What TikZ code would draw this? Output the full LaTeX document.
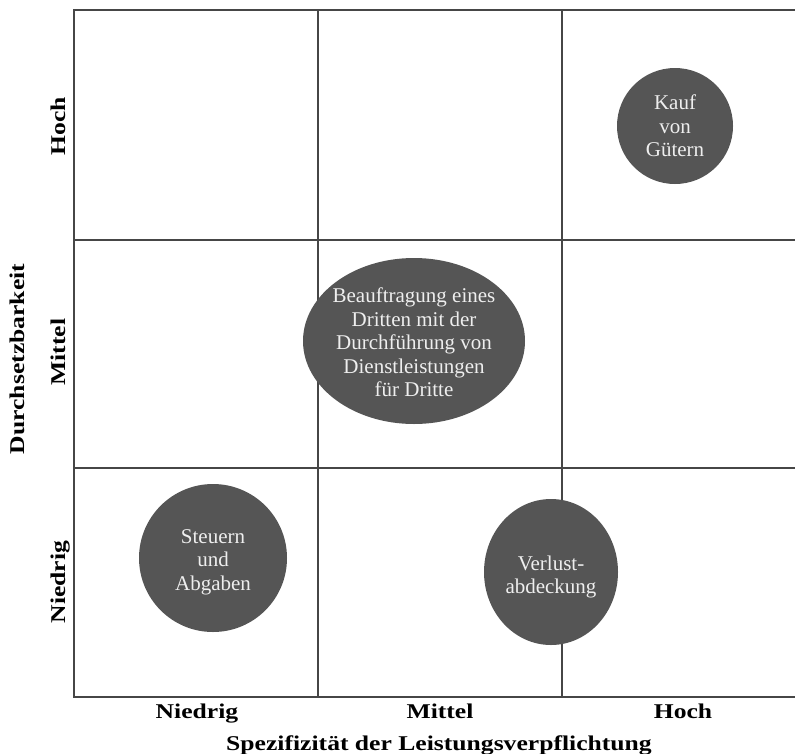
\documentclass[tikz,border=0pt]{standalone}
\usepackage{fontspec}
\setmainfont{Liberation Serif}
\newfontfamily\lblfont[FakeStretch=1.22]{Liberation Serif}
\usetikzlibrary{shapes.geometric}
\definecolor{gridcol}{RGB}{70,70,70}
\definecolor{blobfill}{RGB}{85,85,85}
\definecolor{blobtext}{RGB}{238,238,238}
\tikzset{
  gridline/.style={draw=gridcol, line width=2.7pt},
  blobtxt/.style={text=blobtext, align=center, inner sep=0pt,
    font=\fontsize{21}{23.5}\selectfont},
  blob/.style={fill=blobfill, draw=none, blobtxt},
  axislbl/.style={font=\lblfont\bfseries\fontsize{21}{24}\selectfont, text=black, inner sep=0pt, anchor=base},
}
\begin{document}
\begin{tikzpicture}[x=1pt,y=-1pt]
\useasboundingbox (0,0) rectangle (795,753);
\fill[white] (0,0) rectangle (795,753);
% grid
\draw[gridline] (795,10) -- (74,10) -- (74,697) -- (795,697);
\draw[gridline] (318,10) -- (318,697);
\draw[gridline] (562,10) -- (562,697);
\draw[gridline] (74,240) -- (795,240);
\draw[gridline] (74,468) -- (795,468);
% blobs
\node[blob, circle, minimum size=116pt] (kauf) at (675,126) {Kauf\\von\\Gütern};
\node[blob, ellipse, minimum width=222pt, minimum height=166pt] (beauf) at (414,341) {};
\node[blobtxt] (beauftxt) at ([yshift=-1.5pt]beauf.center)
  {Beauftragung eines\\Dritten mit der\\Durchführung von\\Dienstleistungen\\für Dritte};
\node[blob, circle, minimum size=148pt] (steuern) at (213,558) {};
\node[blobtxt] (steuerntxt) at ([yshift=-4pt]steuern.center) {Steuern\\und\\Abgaben};
\node[blob, ellipse, minimum width=134pt, minimum height=146pt] (verlust) at (551,572) {};
\node[blobtxt] (verlusttxt) at ([yshift=-5pt]verlust.center) {Verlust-\\abdeckung};
% column labels
\node[axislbl] (cn) at (197,718) {Niedrig};
\node[axislbl] (cm) at (440,718) {Mittel};
\node[axislbl] (ch) at (683,718) {Hoch};
\node[axislbl] (xtitle) at (439,750) {Spezifizität der Leistungsverpflichtung};
% row labels
\node[axislbl, rotate=90] (rh) at (65,126) {Hoch};
\node[axislbl, rotate=90] (rm) at (65,352) {Mittel};
\node[axislbl, rotate=90] (rn) at (65,582) {Niedrig};
\node[axislbl, rotate=90] (ytitle) at (24,359) {Durchsetzbarkeit};
\end{tikzpicture}
\end{document}
